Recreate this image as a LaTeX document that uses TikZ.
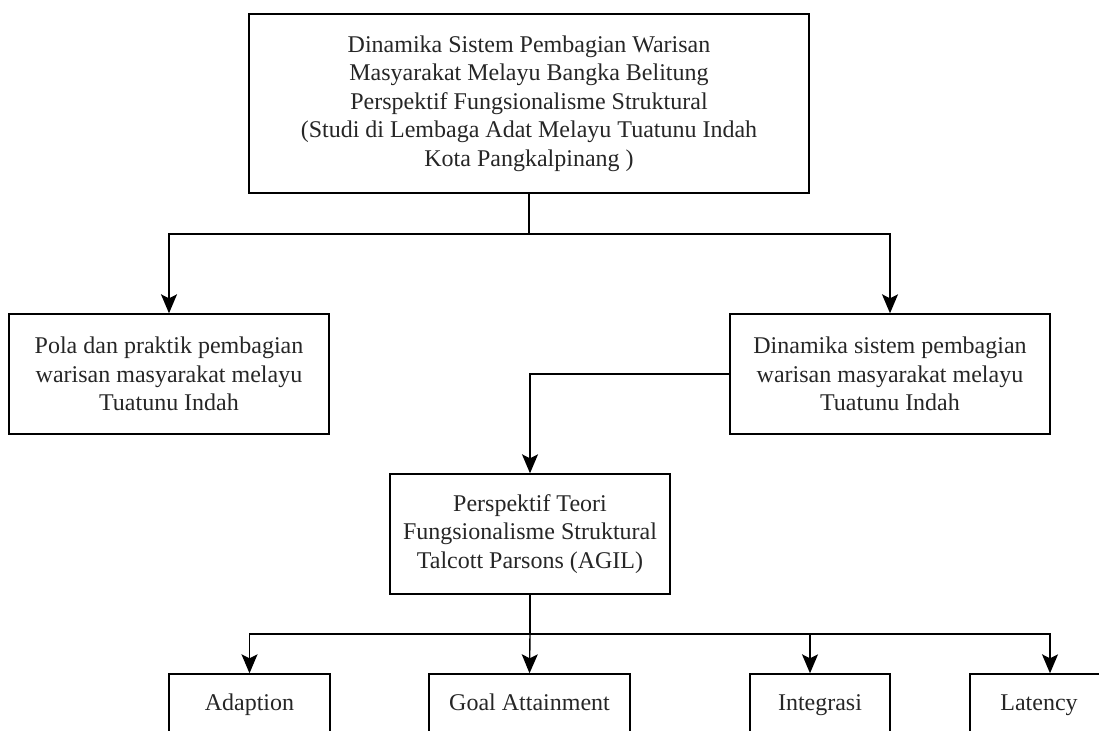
\documentclass[tikz,border=0pt]{standalone}
\usepackage{fontspec}
\setmainfont{Liberation Serif}
\usetikzlibrary{arrows.meta}
\begin{document}
\begin{tikzpicture}[x=1pt,y=-1pt,
  box/.style={draw=black,line width=1.4pt,rectangle,inner sep=0pt,align=center,
    font=\fontsize{24}{28.5}\selectfont,text=black!85},
  small/.style={box,minimum height=62pt,text height=16pt,text depth=5pt},
  arr/.style={line width=1.4pt,-{Stealth[length=19pt,width=16pt,inset=4pt]}},
  ln/.style={line width=1.4pt}]
\useasboundingbox (0,0) rectangle (1099,730);
\clip (0,0) rectangle (1099,730);
\node[box,minimum width=560pt,minimum height=179pt] (top) at (529,103.5)
  {Dinamika Sistem Pembagian Warisan\\ Masyarakat Melayu Bangka Belitung\\
   Perspektif Fungsionalisme Struktural\\ (Studi di Lembaga Adat Melayu Tuatunu Indah\\
   Kota Pangkalpinang )};
\node[box,minimum width=320pt,minimum height=120pt] (left) at (169,374)
  {Pola dan praktik pembagian\\ warisan masyarakat melayu\\ Tuatunu Indah};
\node[box,minimum width=320pt,minimum height=120pt] (right) at (890,374)
  {Dinamika sistem pembagian\\ warisan masyarakat melayu\\ Tuatunu Indah};
\node[box,minimum width=280pt,minimum height=120pt] (mid) at (530,534)
  {Perspektif Teori\\ Fungsionalisme Struktural\\ Talcott Parsons (AGIL)};
\node[small,minimum width=161pt] (adapt) at (249.5,705) {Adaption};
\node[small,minimum width=201pt] (goal) at (529.5,705) {Goal Attainment};
\node[small,minimum width=140pt] (integ) at (820,705) {Integrasi};
\node[small,minimum width=138pt] (lat) at (1039,705) {Latency};
\coordinate (j1) at (529,234);
\coordinate (j2) at (530,634);
\draw[ln] (top.south) -- (j1);
\draw[arr] (j1) -| (left.north);
\draw[arr] (j1) -| (right.north);
\draw[arr] (right.west) -| (mid.north);
\draw[ln] (mid.south) -- (j2);
\draw[arr] (j2) -| (adapt.north);
\draw[arr] (j2) -- (goal.north);
\draw[arr] (j2) -| ([xshift=-10pt]integ.north);
\draw[arr] (j2) -| ([xshift=11pt]lat.north);
\end{tikzpicture}
\end{document}
